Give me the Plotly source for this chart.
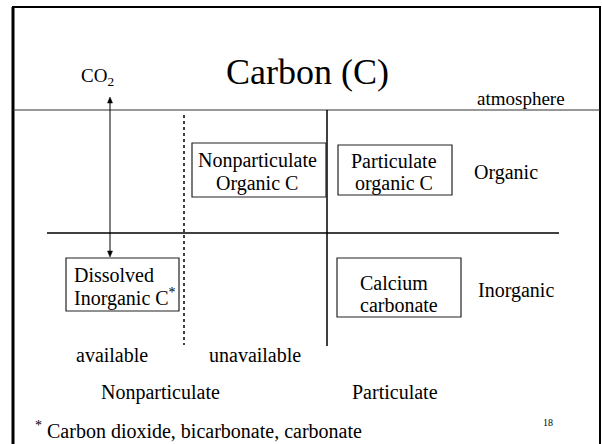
import plotly.graph_objects as go

# ---- text content ----
title_text = "Carbon (C)"
co2_label = "CO<sub>2</sub>"
atmosphere_label = "atmosphere"
box_labels = [
    ["Nonparticulate", "Organic C"],
    ["Particulate", "organic C"],
    ["Dissolved", "Inorganic C<sup>*</sup>"],
    ["Calcium", "carbonate"],
]
row_labels = ["Organic", "Inorganic"]
availability_labels = ["available", "unavailable"]
column_labels = ["Nonparticulate", "Particulate"]
footnote = "<sup>*</sup> Carbon dioxide, bicarbonate, carbonate"
page_number = "18"

# ---- layout geometry (pixel coordinates of the slide) ----
W, H = 602, 444
FONT = "Liberation Serif, Times New Roman, serif"

box_rects = [(192, 143, 326, 197), (338, 145, 452, 195), (66, 258, 179, 311), (337, 258, 461, 317)]
box_text_x = [257, 394, 72, 358]
box_text_anchor = ["center", "center", "left", "left"]
box_text_y = [(160, 183), (161, 183), (275, 297), (283, 305)]
row_pos = [(472, 172), (476, 290)]
avail_pos = [(112, 355), (255, 355)]
col_pos = [(160, 392), (395, 392)]

fig = go.Figure()
fig.add_trace(go.Scatter(x=[0, W], y=[0, H], mode="markers", marker=dict(opacity=0), hoverinfo="skip", showlegend=False))

shapes = []
# frame
shapes.append(dict(type="line", x0=13, y0=7, x1=13, y1=H + 5, line=dict(color="black", width=3)))
shapes.append(dict(type="line", x0=12, y0=7, x1=600, y1=7, line=dict(color="black", width=2)))
shapes.append(dict(type="line", x0=600, y0=6, x1=600, y1=H + 5, line=dict(color="black", width=2)))
# atmosphere line
shapes.append(dict(type="line", x0=13, y0=110, x1=600, y1=110, line=dict(color="#333", width=1.2)))
# organic / inorganic divider
shapes.append(dict(type="line", x0=47, y0=233, x1=559, y1=233, line=dict(color="black", width=1.5)))
# particulate divider
shapes.append(dict(type="line", x0=327, y0=110, x1=327, y1=346, line=dict(color="black", width=1.5)))
# available / unavailable dotted
shapes.append(dict(type="line", x0=184, y0=115, x1=184, y1=345, line=dict(color="black", width=1.5, dash="dot")))
# boxes
for (x0, y0, x1, y1) in box_rects:
    shapes.append(dict(type="rect", x0=x0, y0=y0, x1=x1, y1=y1, line=dict(color="#222", width=1.2)))
# double-headed arrow CO2 <-> DIC
shapes.append(dict(type="line", x0=110, y0=100, x1=110, y1=254, line=dict(color="black", width=1)))
shapes.append(dict(type="path", path="M 110 97 L 107.5 103 L 112.5 103 Z", fillcolor="black", line=dict(color="black", width=0.5)))
shapes.append(dict(type="path", path="M 110 257 L 107.5 251 L 112.5 251 Z", fillcolor="black", line=dict(color="black", width=0.5)))

ann = []
def txt(x, y, t, size=20, anchor="center"):
    ann.append(dict(x=x, y=y, text=t, showarrow=False, xanchor=anchor, yanchor="middle",
                    font=dict(family=FONT, size=size, color="black")))

txt(307, 72, title_text, size=36)
txt(97, 77, co2_label, size=19)
txt(475, 98, atmosphere_label, size=19, anchor="left")
for lines, bx, anc, ys in zip(box_labels, box_text_x, box_text_anchor, box_text_y):
    for t, yy in zip(lines, ys):
        txt(bx, yy, t, size=20, anchor=anc)
for t, (x, y) in zip(row_labels, row_pos):
    txt(x, y, t, size=20, anchor="left")
for t, (x, y) in zip(availability_labels, avail_pos):
    txt(x, y, t, size=20)
for t, (x, y) in zip(column_labels, col_pos):
    txt(x, y, t, size=20)
txt(33, 430, footnote, size=20, anchor="left")
txt(548, 422, page_number, size=10)

fig.update_layout(
    width=W, height=H, margin=dict(l=0, r=0, t=0, b=0),
    paper_bgcolor="white", plot_bgcolor="white",
    xaxis=dict(range=[0, W], visible=False, fixedrange=True),
    yaxis=dict(range=[H, 0], visible=False, fixedrange=True),
    shapes=shapes, annotations=ann, showlegend=False,
)
fig.write_html("out.html", config={"displayModeBar": False},
               post_script="document.body.style.margin='0';document.body.style.overflow='hidden';")
